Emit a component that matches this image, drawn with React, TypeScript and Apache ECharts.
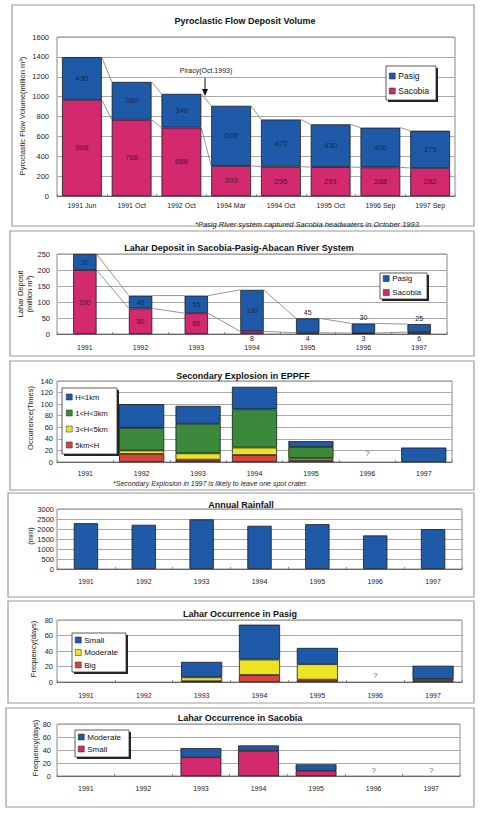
import React, { useEffect, useRef } from 'react';
import * as echarts from 'echarts';

const BLUE = '#1f5aa8';
const MAGENTA = '#d3296f';
const GREEN = '#3b8a3c';
const YELLOW = '#ece324';
const RED = '#d9443a';
const FONT = "'Liberation Sans', Arial, sans-serif";

// Panel 1: Pyroclastic Flow Deposit Volume
const pyroCats = ['1991 Jun', '1991 Oct', '1992 Oct', '1994 Mar', '1994 Oct', '1995 Oct', '1996 Sep', '1997 Sep'];
const pyroPasig = [430, 380, 340, 605, 475, 430, 400, 375];
const pyroSacobia = [968, 768, 688, 303, 295, 291, 288, 282];

// Years for panels 2-6
const years = ['1991', '1992', '1993', '1994', '1995', '1996', '1997'];

// Panel 2: Lahar Deposit
const laharPasig = [50, 40, 55, 130, 45, 30, 25];
const laharSacobia = [200, 80, 65, 8, 4, 3, 6];

// Panel 3: Secondary Explosion
const expBelow1 = [null, 41, 31, 39, 10, null, 25];
const exp1to3 = [null, 39, 51, 66, 19, null, null];
const exp3to5 = [null, 6, 11, 13, 4, null, null];
const expAbove5 = [null, 14, 4, 12, 3, null, null];
const expUnknown = [15];

// Panel 4: Annual Rainfall
const rainfall = [2290, 2210, 2480, 2160, 2240, 1680, 1990];

// Panel 5: Lahar Occurrence in Pasig
const pasigSmall = [null, null, 20, 45, 21, null, 17];
const pasigModerate = [null, null, 5, 20, 20, null, 2];
const pasigBig = [null, null, 1, 9, 3, null, 2];
const pasigUnknown = [8];

// Panel 6: Lahar Occurrence in Sacobia
const sacModerate = [null, null, 14, 8, 10, null, null];
const sacSmall = [null, null, 29, 39, 8, null, null];
const sacUnknown = [8, 8];

// axis scales [min, max, interval]
const yScales = [[0, 1600, 200], [0, 250, 50], [0, 140, 20], [0, 3000, 500], [0, 80, 20], [0, 80, 20]];

const grids = [
  { left: 57, top: 37, width: 398, height: 159 },
  { left: 57, top: 254, width: 390, height: 80 },
  { left: 57, top: 381, width: 395, height: 81 },
  { left: 57, top: 509, width: 405, height: 60 },
  { left: 57, top: 620, width: 405, height: 62 },
  { left: 57, top: 724, width: 403, height: 52 },
];
const yLabelMargins = [8, 7, 4, 3, 4, 6];
const xLabelMargins = [6, 10, 7.5, 8.5, 9.5, 8.5];

function connector(idx: number, tops: number[], frac: number) {
  const data = tops.slice(0, -1).map((v, i) => [i, v, tops[i + 1]]);
  return {
    type: 'custom',
    xAxisIndex: idx,
    yAxisIndex: idx,
    silent: true,
    z: 1,
    data,
    encode: { x: 0, y: 1 },
    renderItem: (params: any, api: any) => {
      const i = api.value(0);
      const p0 = api.coord([i, api.value(1)]);
      const p1 = api.coord([i + 1, api.value(2)]);
      const bw = api.size([1, 0])[0] * frac;
      return {
        type: 'line',
        shape: { x1: p0[0] + bw / 2, y1: p0[1], x2: p1[0] - bw / 2, y2: p1[1] },
        style: { stroke: '#7a7a7a', lineWidth: 0.8 },
      };
    },
  };
}

function bar(idx: number, name: string, data: any[], color: string, stack: string | undefined, width: string, extra: any = {}) {
  return {
    type: 'bar',
    name,
    xAxisIndex: idx,
    yAxisIndex: idx,
    stack,
    data,
    barWidth: width,
    itemStyle: { color, borderColor: '#1a1a1a', borderWidth: 0.8 },
    z: 2,
    ...extra,
  };
}

function question(idx: number, cats: number[], vals: number[]) {
  return {
    type: 'scatter',
    xAxisIndex: idx,
    yAxisIndex: idx,
    symbolSize: 1,
    itemStyle: { color: 'transparent' },
    silent: true,
    data: vals.map((v, k) => [cats[k], v]),
    label: { show: true, position: 'inside', formatter: '?', fontSize: 8, color: '#333', fontFamily: FONT },
  };
}

function legendBox(x: number, y: number, w: number, h: number) {
  return [
    { type: 'rect', z: 5, shape: { x: x + 2, y: y + 2, width: w, height: h }, style: { fill: '#222' } },
    { type: 'rect', z: 5, shape: { x, y, width: w, height: h }, style: { fill: '#fff', stroke: '#333', lineWidth: 0.8 } },
  ];
}

function legend(left: number, top: number, items: [string, string][], fontSize: number, lineHeight: number, gap: number) {
  return {
    left,
    top,
    orient: 'vertical',
    padding: 0,
    itemGap: gap,
    itemWidth: 6,
    itemHeight: 6,
    icon: 'rect',
    z: 10,
    selectedMode: false,
    textStyle: { fontSize, lineHeight, color: '#111', fontFamily: FONT, padding: [0, 0, 0, -2] },
    data: items.map(([n, c]) => ({ name: n, itemStyle: { color: c, borderColor: '#222', borderWidth: 0.5 } })),
  };
}

function panelText(x: number, y: number, text: string, fontSize: number, opts: any = {}) {
  return {
    type: 'text',
    x,
    y,
    z: 6,
    rotation: opts.rotation || 0,
    style: {
      text,
      fontSize,
      fontFamily: FONT,
      fontWeight: opts.bold ? 'bold' : 'normal',
      fontStyle: opts.italic ? 'italic' : 'normal',
      fill: opts.color || '#111',
      align: opts.align || 'center',
      verticalAlign: 'middle',
      lineHeight: opts.lineHeight,
    },
  };
}

const frames = [
  [12, 5, 462, 221],
  [10, 231, 464, 125],
  [10, 361, 464, 129],
  [8, 493, 466, 104],
  [8, 601, 466, 102],
  [6, 708, 468, 99],
];

export default function App() {
  const ref = useRef<HTMLDivElement>(null);
  useEffect(() => {
    if (!ref.current) return;
    const chart = echarts.init(ref.current, null, { renderer: 'svg' });

    const pyroTotals = pyroPasig.map((v, i) => v + pyroSacobia[i]);
    const laharTotals = laharPasig.map((v, i) => v + laharSacobia[i]);

    const xAxes = grids.map((g, i) => ({
      type: 'category',
      gridIndex: i,
      data: i === 0 ? pyroCats : years,
      axisLine: { show: true, lineStyle: { color: '#666', width: 1 } },
      axisTick: { show: true, inside: true, length: 2, lineStyle: { color: '#888' } },
      axisLabel: { fontSize: 7, color: '#222', fontFamily: FONT, margin: xLabelMargins[i], interval: 0 },
    }));
    const yAxes = yScales.map((s, i) => ({
      type: 'value',
      gridIndex: i,
      min: s[0],
      max: s[1],
      interval: s[2],
      axisLine: { show: false },
      axisTick: { show: false },
      splitLine: { show: true, lineStyle: { color: '#a8a8a8', width: 1 } },
      axisLabel: {
        fontSize: 7.5,
        color: '#222',
        fontFamily: FONT,
        margin: yLabelMargins[i],
        formatter: (v: number) => String(v),
      },
    }));

    const series: any[] = [
      // Panel 1
      bar(0, 'Sacobia', pyroSacobia, MAGENTA, 'p1', '80%', {
        label: { show: true, position: 'inside', fontSize: 8, color: '#5a1232', fontFamily: FONT },
      }),
      bar(0, 'Pasig', pyroPasig, BLUE, 'p1', '80%', {
        label: { show: true, position: 'inside', fontSize: 8, color: '#0f2a58', fontFamily: FONT },
      }),
      connector(0, pyroTotals, 0.8),
      connector(0, pyroSacobia, 0.8),
      // Panel 2
      bar(1, 'Sacobia', laharSacobia.map((v, i) => ({
        value: v,
        label: i >= 3 ? { position: 'bottom', distance: 1, color: '#222' } : {},
      })), MAGENTA, 'p2', '42%', {
        label: { show: true, position: 'inside', fontSize: 7, color: '#5a1232', fontFamily: FONT },
      }),
      bar(1, 'Pasig', laharPasig.map((v, i) => ({
        value: v,
        label: i >= 4 ? { position: 'top', distance: 2, color: '#222' } : {},
      })), BLUE, 'p2', '42%', {
        label: { show: true, position: 'inside', fontSize: 7, color: '#0f2a58', fontFamily: FONT },
      }),
      connector(1, laharTotals, 0.42),
      connector(1, laharSacobia, 0.42),
      // Panel 3
      bar(2, '5km<H', expAbove5, RED, 'p3', '80%'),
      bar(2, '3<H<5km', exp3to5, YELLOW, 'p3', '80%'),
      bar(2, '1<H<3km', exp1to3, GREEN, 'p3', '80%'),
      bar(2, 'H<1km', expBelow1, BLUE, 'p3', '80%'),
      question(2, [5], expUnknown),
      // Panel 4
      bar(3, 'Rainfall', rainfall, BLUE, undefined, '42%'),
      // Panel 5
      bar(4, 'Big', pasigBig, RED, 'p5', '71%'),
      bar(4, 'Moderate', pasigModerate, YELLOW, 'p5', '71%'),
      bar(4, 'Small', pasigSmall, BLUE, 'p5', '71%'),
      question(4, [5], pasigUnknown),
      // Panel 6
      bar(5, 'Small', sacSmall, MAGENTA, 'p6', '71%'),
      bar(5, 'Moderate', sacModerate, BLUE, 'p6', '71%'),
      question(5, [5, 6], sacUnknown),
    ];

    const graphics: any[] = [];
    frames.forEach(([x, y, w, h]) => {
      graphics.push({ type: 'rect', z: 0, shape: { x, y, width: w, height: h }, style: { fill: 'none', stroke: '#9a9a9a', lineWidth: 1.2 } });
    });
    graphics.push(...legendBox(386, 66, 50, 34));
    graphics.push(...legendBox(380, 273, 47, 26));
    graphics.push(...legendBox(62, 388, 55, 66));
    graphics.push(...legendBox(72, 633, 54, 39));
    graphics.push(...legendBox(75, 730, 54, 27));
    // titles
    graphics.push(panelText(245, 21, 'Pyroclastic Flow Deposit Volume', 9, { bold: true }));
    graphics.push(panelText(239, 248, 'Lahar Deposit in Sacobia-Pasig-Abacan River System', 9, { bold: true }));
    graphics.push(panelText(243, 376, 'Secondary Explosion in EPPFF', 9, { bold: true }));
    graphics.push(panelText(241, 505, 'Annual Rainfall', 9, { bold: true }));
    graphics.push(panelText(240, 614, 'Lahar Occurrence in Pasig', 9, { bold: true }));
    graphics.push(panelText(240, 718, 'Lahar Occurrence in Sacobia', 9, { bold: true }));
    // y axis names
    graphics.push(panelText(22, 116, 'Pyroclastic Flow Volume(million m³)', 7.5, { rotation: Math.PI / 2, color: '#222' }));
    graphics.push(panelText(25, 294, 'Lahar Deposit\n(million m³)', 7.5, { rotation: Math.PI / 2, color: '#222', lineHeight: 9 }));
    graphics.push(panelText(30, 418, 'Occurrence(Times)', 7.5, { rotation: Math.PI / 2, color: '#222' }));
    graphics.push(panelText(30, 536, '(mm)', 7.5, { rotation: Math.PI / 2, color: '#222' }));
    graphics.push(panelText(33, 649, 'Frequency(days)', 7.5, { rotation: Math.PI / 2, color: '#222' }));
    graphics.push(panelText(35, 748, 'Frequency(days)', 7.5, { rotation: Math.PI / 2, color: '#222' }));
    // notes
    graphics.push(panelText(195, 224, '*Pasig River system captured Sacobia headwaters in October 1993.', 7.5, { italic: true, align: 'left', color: '#222' }));
    graphics.push(panelText(113, 483, '*Secondary Explosion in 1997 is likely to leave one spot crater.', 7, { italic: true, align: 'left', color: '#222' }));
    graphics.push(panelText(206, 70, 'Piracy(Oct.1993)', 7, { color: '#222' }));
    graphics.push({ type: 'line', z: 6, shape: { x1: 205, y1: 78, x2: 205, y2: 92 }, style: { stroke: '#111', lineWidth: 1 } });
    graphics.push({ type: 'polygon', z: 6, shape: { points: [[202, 89], [208, 89], [205, 96]] }, style: { fill: '#111' } });

    chart.setOption({
      animation: false,
      backgroundColor: '#fff',
      textStyle: { fontFamily: FONT },
      grid: grids.map((g) => ({ ...g, show: true, borderColor: '#8a8a8a', borderWidth: 1, backgroundColor: 'transparent' })),
      xAxis: xAxes,
      yAxis: yAxes,
      legend: [
        legend(389, 71, [['Pasig', BLUE], ['Sacobia', MAGENTA]], 8.5, 10, 5),
        legend(383, 274, [['Pasig', BLUE], ['Sacobia', MAGENTA]], 8, 9, 5),
        legend(66, 392, [['H<1km', BLUE], ['1<H<3km', GREEN], ['3<H<5km', YELLOW], ['5km<H', RED]], 7.5, 10, 6),
        legend(75, 635.5, [['Small', BLUE], ['Moderate', YELLOW], ['Big', RED]], 8, 9, 3.5),
        legend(78, 732.5, [['Moderate', BLUE], ['Small', MAGENTA]], 8, 9, 3),
      ],
      graphic: graphics,
      series,
    });
    return () => chart.dispose();
  }, []);
  return <div ref={ref} style={{ position: 'absolute', left: 0, top: 0, width: 484, height: 813 }} />;
}
